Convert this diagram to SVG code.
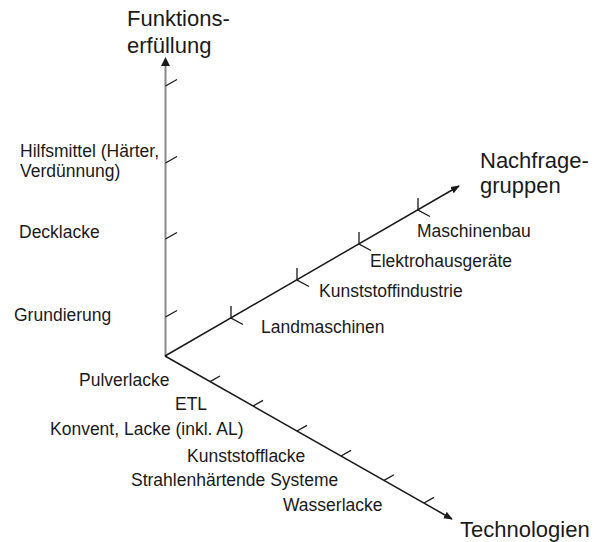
<svg xmlns="http://www.w3.org/2000/svg" width="602" height="542" viewBox="0 0 602 542">
<style>
text{font-family:"Liberation Sans",Arial,sans-serif;fill:#1a1a1a}
.big{font-size:22px}
.lbl{font-size:17.5px}
.ax{stroke:#1a1a1a;stroke-width:1.5;fill:none}
.axv{stroke:#888;stroke-width:2;fill:none}
.tk{stroke:#1a1a1a;stroke-width:1.3;fill:none}
</style>
<defs>
<marker id="ah" viewBox="0 0 10 10" refX="9" refY="5" markerWidth="9" markerHeight="9" markerUnits="userSpaceOnUse" orient="auto">
<path d="M0,1 L10,5 L0,9 Z" fill="#1a1a1a"/>
</marker>
</defs>
<rect width="602" height="542" fill="#fff"/>
<g id="connectors">
<line class="axv" x1="165.5" y1="356" x2="165.5" y2="60"/>
<line class="ax" x1="165" y1="356" x2="459" y2="186" marker-end="url(#ah)"/>
<line class="ax" x1="165" y1="356" x2="452" y2="519" marker-end="url(#ah)"/>
<path d="M161,66 L165.5,57 L170,66 Z" fill="#1a1a1a"/>
<g id="ticks-funktion">
<line class="tk" x1="165.5" y1="86" x2="177" y2="79.5"/>
<line class="tk" x1="165.5" y1="163" x2="177" y2="156.5"/>
<line class="tk" x1="165.5" y1="239" x2="177" y2="232.5"/>
<line class="tk" x1="165.5" y1="317" x2="177" y2="310.5"/>
</g>
<g id="ticks-nachfrage">
<path class="tk" d="M231,306 V318 L243,324.5"/>
<path class="tk" d="M297,268 V280 L309,286.5"/>
<path class="tk" d="M359,232 V244 L371,250.5"/>
<path class="tk" d="M418,198 V210 L430,216.5"/>
</g>
<g id="ticks-technologie">
<line class="tk" x1="210" y1="381.6" x2="220" y2="376"/>
<line class="tk" x1="253" y1="406" x2="263" y2="400.4"/>
<line class="tk" x1="297" y1="431" x2="307" y2="425.4"/>
<line class="tk" x1="341" y1="456" x2="351" y2="450.4"/>
<line class="tk" x1="384" y1="480.4" x2="394" y2="474.8"/>
<line class="tk" x1="424" y1="503" x2="434" y2="497.4"/>
</g>
</g>
<g id="axis-funktion">
<text class="big" x="127" y="26">Funktions-<tspan x="127" y="53">erfüllung</tspan></text>
</g>
<g id="axis-nachfrage">
<text class="big" x="480" y="168">Nachfrage-<tspan x="480" y="193">gruppen</tspan></text>
</g>
<g id="axis-technologie">
<text class="big" x="460" y="537">Technologien</text>
</g>
<g id="labels-funktion">
<text class="lbl" x="20" y="156.5">Hilfsmittel (Härter,</text>
<text class="lbl" x="20" y="177">Verdünnung)</text>
<text class="lbl" x="19" y="238">Decklacke</text>
<text class="lbl" x="14" y="321">Grundierung</text>
</g>
<g id="labels-nachfrage">
<text class="lbl" x="417" y="237">Maschinenbau</text>
<text class="lbl" x="370" y="267">Elektrohausgeräte</text>
<text class="lbl" x="319" y="297">Kunststoffindustrie</text>
<text class="lbl" x="261" y="333">Landmaschinen</text>
</g>
<g id="labels-technologie">
<text class="lbl" x="79" y="386">Pulverlacke</text>
<text class="lbl" x="175" y="410">ETL</text>
<text class="lbl" x="50" y="435">Konvent, Lacke (inkl. AL)</text>
<text class="lbl" x="187" y="461.5">Kunststofflacke</text>
<text class="lbl" x="131" y="486">Strahlenhärtende Systeme</text>
<text class="lbl" x="283" y="510.5">Wasserlacke</text>
</g>
</svg>
